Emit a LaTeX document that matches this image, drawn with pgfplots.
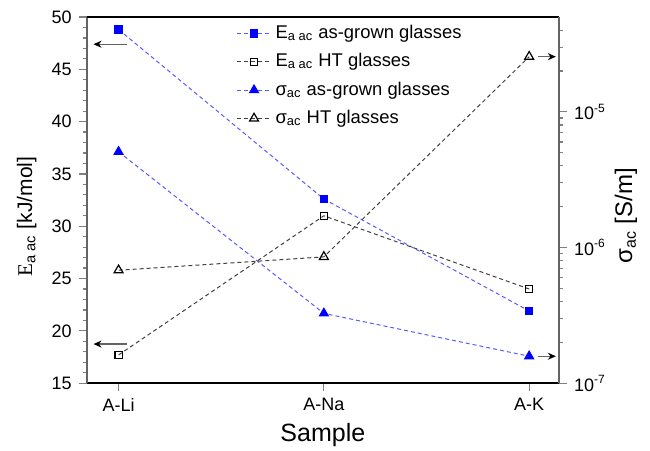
\documentclass[border=0pt]{standalone}
\usepackage{fontspec}
\setmainfont{Liberation Sans}
\newfontfamily\serifE{Liberation Serif}
\usepackage{pgfplots}
\pgfplotsset{compat=1.18}
\usetikzlibrary{arrows.meta}

\definecolor{lineblue}{RGB}{90,90,255}
\definecolor{axgray}{RGB}{100,100,100}

\pgfplotsset{
  common/.style={
    scale only axis, width=236pt, height=183pt,
    xmin=-0.155, xmax=2.145,
    tick align=outside,
    major tick length=4pt, minor tick length=2pt,
    tick style={line width=0.6pt},
    /pgf/number format/assume math mode=true,
    tick label style={font=\fontsize{9}{10}\selectfont},
  },
  blueline/.style={lineblue, line width=0.5pt, dash pattern=on 2pt off 1.5pt},
  blackline/.style={black!75, line width=0.5pt, dash pattern=on 2pt off 1.5pt},
}

\begin{document}
\begin{tikzpicture}
\useasboundingbox (-43.35pt,-33.5pt) rectangle (281.5pt,191.5pt);
% left axis: activation energy
\begin{axis}[common,
  axis x line*=bottom, axis y line*=left,
  x axis line style={black, line width=0.7pt, -},
  y axis line style={axgray, line width=0.9pt, -},
  ymin=15, ymax=50,
  ytick={15,20,...,50}, minor y tick num=4,
  xtick={0,1,2}, xticklabels={A-Li,A-Na,A-K},
  xlabel={Sample},
  ylabel={{\serifE E}\textsubscript{a ac} [kJ/mol]},
  every axis x label/.style={at={(axis description cs:0.5,-0.142)},anchor=center,font=\fontsize{12.5}{14}\selectfont},
  every axis y label/.style={at={(axis description cs:-0.127,0.455)},rotate=90,anchor=center,font=\fontsize{10.5}{12}\selectfont},
]
\addplot[blueline, mark=square*, mark size=1.8pt, mark options={solid, fill=blue, draw=blue}]
  coordinates {(0,48.8) (1,32.6) (2,21.9)};
\addplot[blackline, mark=square, mark size=1.8pt, mark options={solid, black, line width=0.6pt}]
  coordinates {(0,17.7) (1,31.0) (2,24.0)};
\draw[axgray, line width=0.7pt, -{Stealth[black,length=4pt,width=3.5pt]}] (axis cs:0.042,47.4) -- (axis cs:-0.122,47.4);
\draw[axgray, line width=0.7pt, -{Stealth[black,length=4pt,width=3.5pt]}] (axis cs:0.042,18.74) -- (axis cs:-0.122,18.74);
\end{axis}
% right axis: ac conductivity
\begin{axis}[common,
  axis x line*=top, axis y line*=right,
  x axis line style={black, line width=0.7pt, -},
  y axis line style={axgray, line width=0.9pt, -},
  xtick=\empty,
  ymode=log, ymin=1e-7, ymax=5e-5,
  ytick={1e-7,1e-6,1e-5},
  yticklabels={10\textsuperscript{-7},10\textsuperscript{-6},10\textsuperscript{-5}},
  minor ytick={2e-7,3e-7,4e-7,5e-7,6e-7,7e-7,8e-7,9e-7,2e-6,3e-6,4e-6,5e-6,6e-6,7e-6,8e-6,9e-6,2e-5,3e-5,4e-5},
  ylabel={σ\textsubscript{ac} [S/m]},
  every axis y label/.style={at={(axis description cs:1.142,0.457)},rotate=90,anchor=center,font=\fontsize{12}{14}\selectfont},
  legend style={at={(axis description cs:0.312,0.995)}, anchor=north west, draw=none, fill=none,
    font=\fontsize{9.2}{10.5}\selectfont, row sep=2pt, inner sep=1pt},
  legend cell align=left,
]
\addlegendimage{blueline, mark=square*, mark size=1.8pt, mark options={solid, fill=blue, draw=blue}}
\addlegendentry{E\textsubscript{a ac} as-grown glasses}
\addlegendimage{blackline, mark=square, mark size=1.8pt, mark options={solid, black, line width=0.6pt}}
\addlegendentry{E\textsubscript{a ac} HT glasses}
\addplot[blueline, mark=triangle*, mark size=2.6pt, mark options={solid, fill=blue, draw=blue}]
  coordinates {(0,5.08e-6) (1,3.27e-7) (2,1.58e-7)};
\addlegendentry{σ\textsubscript{ac} as-grown glasses}
\addplot[blackline, mark=triangle, mark size=2.6pt, mark options={solid, black, line width=0.6pt}]
  coordinates {(0,6.8e-7) (1,8.53e-7) (2,2.55e-5)};
\addlegendentry{σ\textsubscript{ac} HT glasses}
\draw[axgray, line width=0.7pt, -{Stealth[black,length=4pt,width=3.5pt]}] (axis cs:2.042,2.55e-5) -- (axis cs:2.13,2.55e-5);
\draw[axgray, line width=0.7pt, -{Stealth[black,length=4pt,width=3.5pt]}] (axis cs:2.042,1.58e-7) -- (axis cs:2.13,1.58e-7);
\end{axis}
\end{tikzpicture}
\end{document}
